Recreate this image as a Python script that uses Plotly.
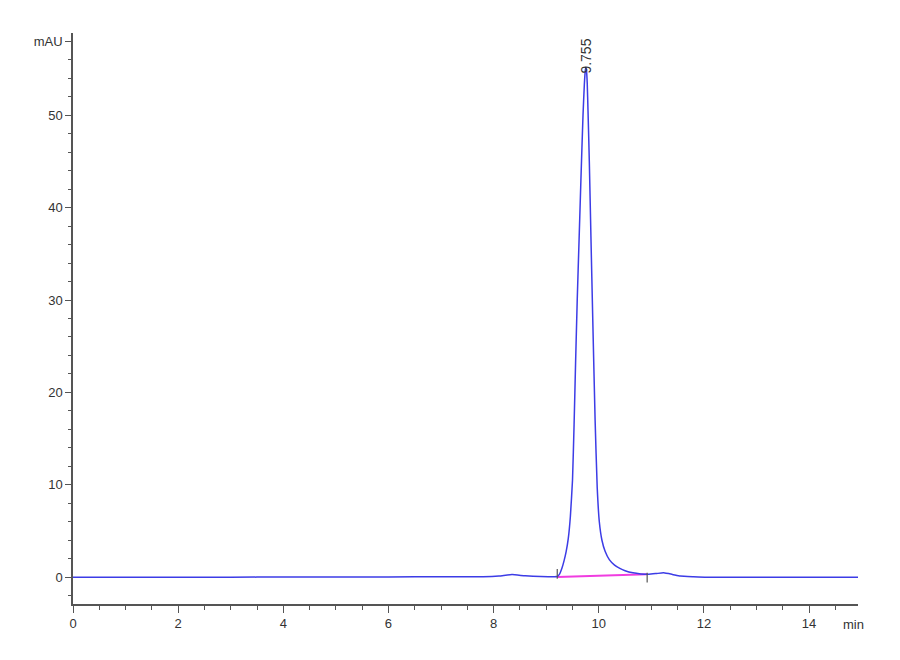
import plotly.graph_objects as go

# chromatogram (time in min, absorbance in mAU)
time_min = [0.0, 1.0, 2.0, 3.0, 4.0, 5.0, 6.0, 7.0, 7.8, 8.1, 8.35, 8.6, 8.9, 9.15,
            9.21, 9.25, 9.30, 9.34, 9.38, 9.42, 9.46, 9.50, 9.53, 9.56, 9.59, 9.625, 9.66,
            9.70, 9.725, 9.745, 9.755, 9.765, 9.78, 9.795, 9.82, 9.85, 9.885, 9.93,
            9.97, 10.01, 10.06, 10.12, 10.2, 10.3, 10.4, 10.5, 10.65, 10.8, 10.95,
            11.1, 11.23, 11.4, 11.55, 11.8, 12.05, 13.0, 14.0, 14.93]
signal_mau = [0.0, 0.0, 0.0, 0.0, 0.02, 0.02, 0.03, 0.05, 0.05, 0.12, 0.28, 0.15, 0.08, 0.05,
              0.08, 0.3, 1.0, 1.8, 2.8, 4.2, 6.6, 10.5, 16.5, 23.5, 30.0, 36.5, 43.0,
              50.0, 53.3, 54.9, 55.2, 54.9, 53.5, 50.5, 45.0, 37.0, 28.0, 17.0,
              9.7, 6.0, 4.0, 2.8, 1.9, 1.3, 0.95, 0.7, 0.47, 0.36, 0.32,
              0.4, 0.47, 0.3, 0.12, 0.05, 0.0, 0.0, 0.0, 0.0]

# integration baseline and its start / end marks
base_time = [9.21, 10.92]
base_mau = [0.02, 0.32]
mark_time = [9.21, 10.92]
mark_mau = [0.35, -0.05]

peak_time = 9.755
peak_mau = 55.2
peak_label = "9.755"

x_ticks = [0, 2, 4, 6, 8, 10, 12, 14]
y_ticks = [0, 10, 20, 30, 40, 50, 58]
y_ticktext = ["0", "10", "20", "30", "40", "50", "mAU"]

font_name = "Liberation Sans Narrow, Liberation Sans, Arial"
axis_col = "#555555"

fig = go.Figure()
fig.add_trace(go.Scatter(x=base_time, y=base_mau, mode="lines",
                         line=dict(color="#f03ce0", width=1.8), hoverinfo="skip"))
fig.add_trace(go.Scatter(x=time_min, y=signal_mau, mode="lines",
                         line=dict(color="#3c3ce6", width=1.5, shape="spline", smoothing=0.4)))
fig.add_trace(go.Scatter(x=mark_time, y=mark_mau, mode="markers",
                         marker=dict(symbol="line-ns", size=7, line=dict(color="#555555", width=1.2)),
                         hoverinfo="skip"))

fig.add_annotation(x=peak_time, y=peak_mau, text=peak_label, textangle=-90, showarrow=False,
                   xanchor="center", yanchor="bottom", yshift=-8,
                   font=dict(family="Liberation Sans, Arial", size=14, color="#333333"))
fig.add_annotation(x=14.85, y=0, xref="x", yref="paper", text="min", showarrow=False,
                   xanchor="center", yanchor="top", yshift=-11,
                   font=dict(family=font_name, size=13, color="#333333"))

fig.update_xaxes(range=[0, 14.93], tickvals=x_ticks, showgrid=False, zeroline=False,
                 showline=True, linecolor=axis_col, linewidth=1.5,
                 ticks="outside", ticklen=7, tickwidth=1.2, tickcolor=axis_col,
                 minor=dict(dtick=0.5, tick0=0, ticks="outside", ticklen=4, tickcolor=axis_col, tickwidth=1.2),
                 tickfont=dict(family=font_name, size=13, color="#333333"))
fig.update_yaxes(range=[-2.9, 58.9], tickvals=y_ticks, ticktext=y_ticktext, showgrid=False,
                 zeroline=False, showline=True, linecolor=axis_col, linewidth=1.5,
                 ticks="outside", ticklen=6, tickwidth=1.2, tickcolor=axis_col,
                 minor=dict(dtick=2, tick0=0, ticks="outside", ticklen=3, tickcolor=axis_col, tickwidth=1.2),
                 tickfont=dict(family=font_name, size=13, color="#333333"))

# page adds an 8px body margin, so margins are trimmed to keep the plot area in place
fig.update_layout(width=900, height=660, showlegend=False,
                  plot_bgcolor="white", paper_bgcolor="white",
                  margin=dict(l=65, r=50, t=25, b=64))

fig.write_html("out.html")
